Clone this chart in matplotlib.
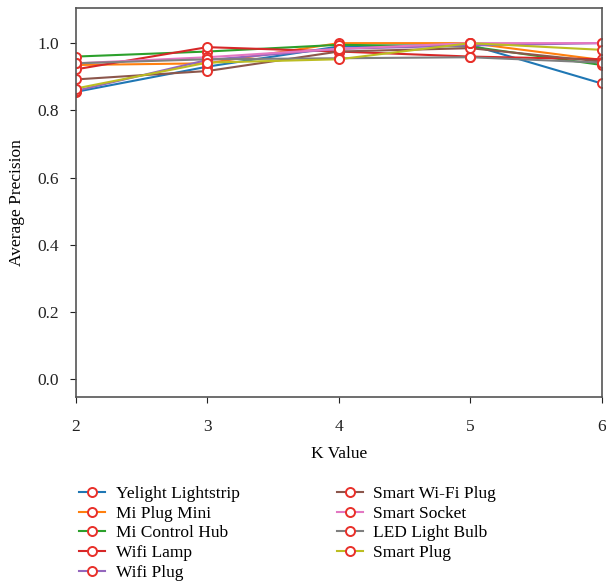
import numpy as np
import matplotlib.pyplot as plt

plt.rcParams['font.family'] = ['Liberation Serif', 'DejaVu Serif']

k_values = [2, 3, 4, 5, 6]

devices = ["Yelight Lightstrip", "Mi Plug Mini", "Mi Control Hub", "Wifi Lamp",
           "Wifi Plug", "Smart Wi-Fi Plug", "Smart Socket", "LED Light Bulb",
           "Smart Plug"]

yelight = [0.855, 0.930, 0.990, 0.995, 0.880]
mi_plug_mini = [0.935, 0.940, 1.000, 1.000, 0.950]
mi_control_hub = [0.960, 0.975, 0.995, 0.990, 0.935]
wifi_lamp = [0.922, 0.988, 0.975, 0.960, 0.952]
wifi_plug = [0.858, 0.950, 0.983, 0.993, 1.000]
smart_wifi_plug = [0.892, 0.917, 0.975, 0.985, 0.945]
smart_socket = [0.940, 0.958, 0.983, 1.000, 1.000]
led_bulb = [0.940, 0.952, 0.955, 0.958, 0.942]
smart_plug = [0.865, 0.942, 0.952, 1.000, 0.980]

series = [yelight, mi_plug_mini, mi_control_hub, wifi_lamp, wifi_plug,
          smart_wifi_plug, smart_socket, led_bulb, smart_plug]
colors = plt.cm.tab10.colors

fig = plt.figure(figsize=(6.06, 5.82), dpi=100)
ax = fig.add_axes([0.125, 0.318, 0.868, 0.668])

for vals, name, c in zip(series, devices, colors):
    ax.plot(k_values, vals, color=c, lw=1.5, marker='o', ms=6.5,
            mfc='white', mec='#e8302a', mew=1.4, label=name)

ax.set_xlim(2, 6)
ax.set_ylim(-0.052, 1.104)
ax.set_xticks(k_values)
ax.set_yticks(np.arange(0, 1.01, 0.2))
ax.yaxis.set_major_formatter(plt.FormatStrFormatter('%.1f'))
ax.tick_params(labelsize=12.5, colors='#222222', length=4)
ax.tick_params(axis='x', pad=12)
ax.tick_params(axis='y', pad=8)
for s in ax.spines.values():
    s.set_color('#555555')
    s.set_linewidth(1.2)
ax.set_xlabel('K Value', fontsize=12.5, labelpad=8)
ax.set_ylabel('Average Precision', fontsize=12.5, labelpad=9)

fig.legend(loc='upper left', bbox_to_anchor=(0.119, 0.177), ncol=2,
           frameon=False, fontsize=12.5, handlelength=1.5, handletextpad=0.6,
           columnspacing=5.6, labelspacing=0.2, borderaxespad=0)

fig.savefig('out.png', dpi=100)
